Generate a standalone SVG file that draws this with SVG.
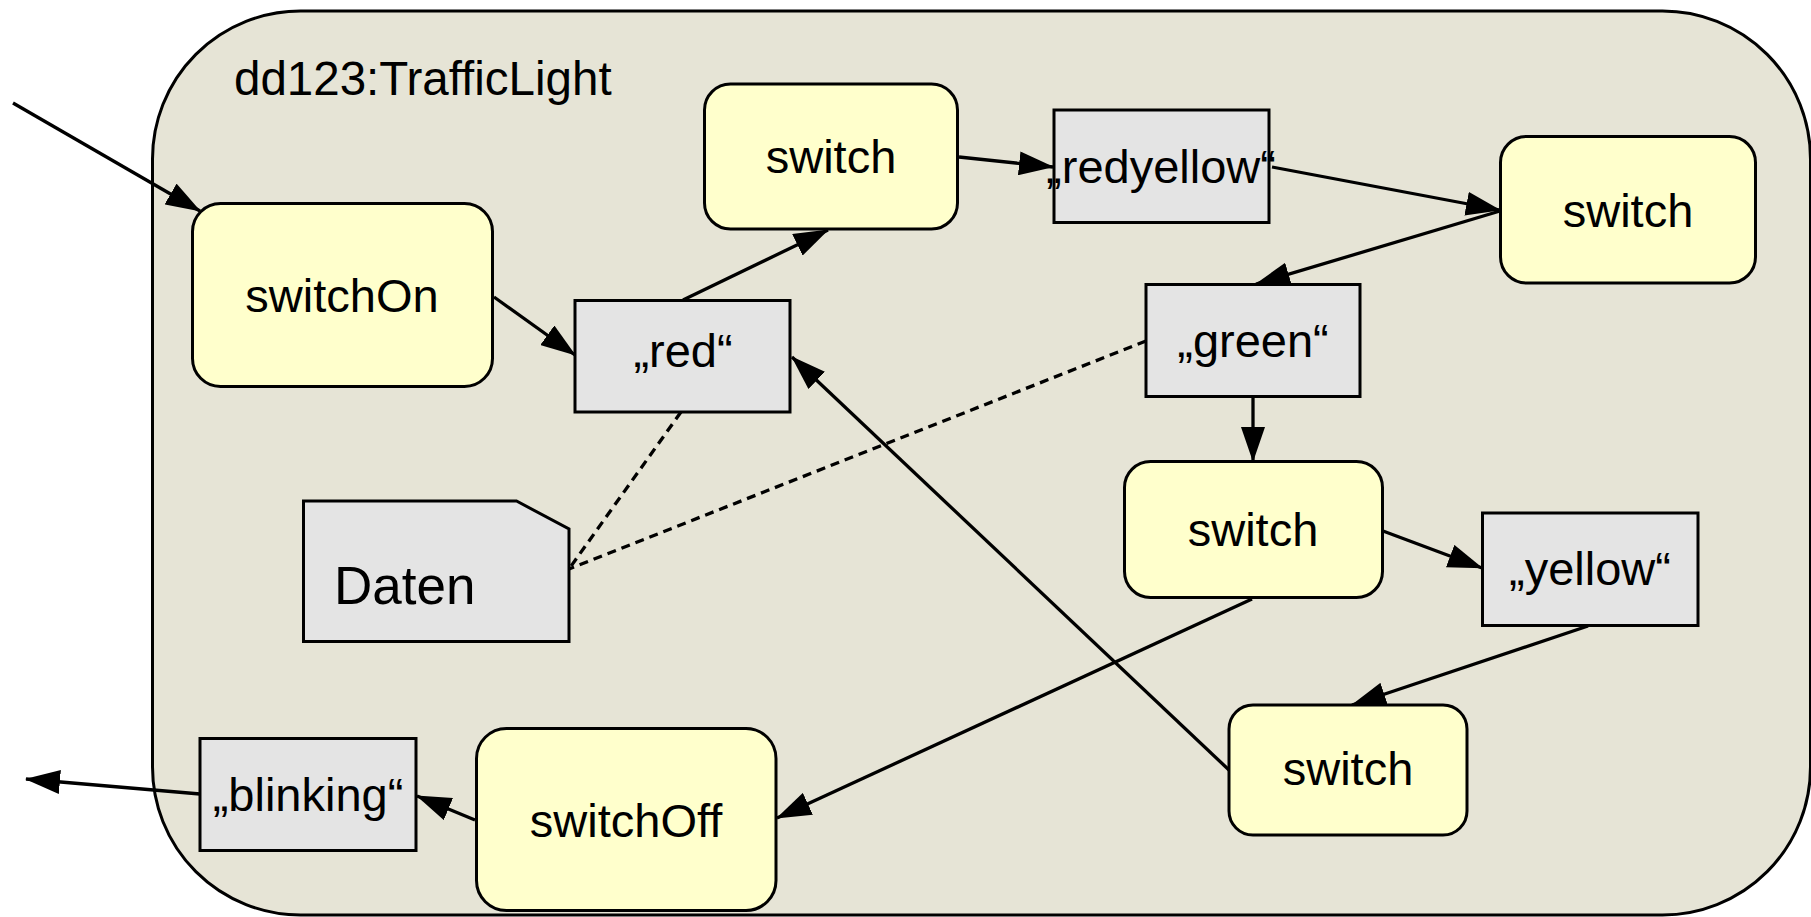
<svg xmlns="http://www.w3.org/2000/svg" width="1811" height="917" viewBox="0 0 1811 917">
<style>
  text { font-family: "Liberation Sans", Arial, sans-serif; fill: #000; }
  .lbl { font-size: 47px; text-anchor: middle; }
  .state { fill: #ffffcc; stroke: #000; stroke-width: 3; }
  .obj { fill: #e4e4e4; stroke: #000; stroke-width: 3; }
  .edge { fill: none; stroke: #000; stroke-width: 3.3; marker-end: url(#arrow); }
  .dep { fill: none; stroke: #000; stroke-width: 3.3; stroke-dasharray: 9 6; }
</style>
<defs>
  <marker id="arrow" markerUnits="userSpaceOnUse" markerWidth="35" markerHeight="24" refX="34" refY="12" orient="auto" viewBox="0 0 35 24">
    <path d="M0,0 L35,12 L0,24 Z" fill="#000"/>
  </marker>
</defs>
<rect width="1811" height="917" fill="#ffffff"/>
<g id="container">
  <rect x="152.5" y="11" width="1658" height="904" rx="148" ry="148" fill="#e6e4d6" stroke="#000" stroke-width="3"/>
  <text x="234" y="95" font-size="47.5">dd123:TrafficLight</text>
</g>
<g id="connectors">
  <path class="edge" d="M13,103 L200,211"/>
  <path class="edge" d="M494,297 L575,355"/>
  <path class="edge" d="M683,300 L828,230"/>
  <path class="edge" d="M959,157 L1053,167"/>
  <path class="edge" d="M1272,167 L1500,210"/>
  <path class="edge" d="M1500,211 L1256,284"/>
  <path class="edge" d="M1253,397 L1253,461"/>
  <path class="edge" d="M1383,531 L1482,568"/>
  <path class="edge" d="M1588,626 L1352,705"/>
  <path class="edge" d="M1229,770 L792,357"/>
  <path class="edge" d="M1252,599 L777,818"/>
  <path class="edge" d="M475,820 L417,796"/>
  <path class="edge" d="M200,794 L26,779"/>
  <path class="dep" d="M681,412 L569,569"/>
  <path class="dep" d="M1146,341 L569,569"/>
</g>
<g id="switchOn">
  <rect class="state" x="192.5" y="203.5" width="300" height="183" rx="28"/>
  <text class="lbl" x="342" y="312">switchOn</text>
</g>
<g id="switch1">
  <rect class="state" x="704.5" y="84" width="253" height="145" rx="26"/>
  <text class="lbl" x="831" y="173">switch</text>
</g>
<g id="redyellow">
  <rect class="obj" x="1054" y="110" width="215" height="112.5"/>
  <text class="lbl" x="1161" y="183">„redyellow“</text>
</g>
<g id="switch2">
  <rect class="state" x="1500.5" y="136.5" width="255" height="146.5" rx="26"/>
  <text class="lbl" x="1628" y="227">switch</text>
</g>
<g id="red">
  <rect class="obj" x="575" y="300.5" width="215" height="111.5"/>
  <text class="lbl" x="683" y="367">„red“</text>
</g>
<g id="green">
  <rect class="obj" x="1146" y="284.5" width="214" height="112"/>
  <text class="lbl" x="1253" y="357">„green“</text>
</g>
<g id="switch3">
  <rect class="state" x="1124.5" y="461.5" width="258" height="136" rx="26"/>
  <text class="lbl" x="1253" y="546">switch</text>
</g>
<g id="yellow">
  <rect class="obj" x="1482.5" y="513" width="215.5" height="112.5"/>
  <text class="lbl" x="1590" y="585">„yellow“</text>
</g>
<g id="switch4">
  <rect class="state" x="1229" y="705" width="238" height="130" rx="24"/>
  <text class="lbl" x="1348" y="785">switch</text>
</g>
<g id="daten">
  <path class="obj" d="M303.5,501 L516.5,501 L569,529 L569,641.5 L303.5,641.5 Z"/>
  <text x="334" y="604" font-size="53">Daten</text>
</g>
<g id="blinking">
  <rect class="obj" x="200" y="738.5" width="216" height="112"/>
  <text class="lbl" x="308" y="811">„blinking“</text>
</g>
<g id="switchOff">
  <rect class="state" x="476.5" y="728.5" width="299.5" height="182" rx="30"/>
  <text class="lbl" x="626" y="837">switchOff</text>
</g>
</svg>
